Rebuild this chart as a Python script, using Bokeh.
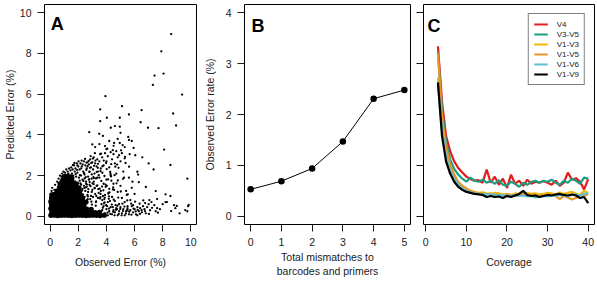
from bokeh.plotting import figure
from bokeh.layouts import row
from bokeh.models import FixedTicker, Label, Legend, LegendItem
from bokeh.embed import file_html
from bokeh.resources import INLINE

FONT = "Liberation Sans"

# ---- Panel A: observed vs predicted error per read (%) ----
# dense cluster near the origin
core_obs = [0.05, 0.3, 0.55, 0.8, 1.05, 1.3, 1.55, 1.8, 2.05, 2.3, 2.55, 2.8, 3.05, 3.3, 3.55, 3.85,
            0.12, 0.37, 0.62, 0.87, 1.1, 1.35, 1.62, 1.85, 2.12, 2.37, 2.62, 2.9, 3.2, 3.5,
            0.05, 0.3, 0.57, 0.8, 1.05, 1.32, 1.55, 1.8, 2.07, 2.3, 2.6, 2.92,
            0.1, 0.35, 0.6, 0.85, 1.12, 1.35, 1.6, 1.87, 2.1, 2.4,
            0.05, 0.3, 0.55, 0.82, 1.05, 1.3, 1.57, 1.8, 2.05, 2.3, 2.55,
            0.1, 0.35, 0.6, 0.85, 1.1, 1.37, 1.6, 1.85, 2.05, 2.3,
            0.12, 0.3, 0.55, 0.8, 1.05, 1.3, 1.55, 1.75, 1.95, 2.15,
            0.5, 0.75, 1.0, 1.25, 1.5, 1.7, 1.9, 2.1,
            0.7, 0.95, 1.2, 1.45, 1.65, 1.85, 2.05,
            0.7, 0.9, 1.15, 1.4, 1.6, 1.8,
            0.9, 1.1, 1.35, 1.55,
            1.0, 1.25, 1.5]
core_pred = [0.05, 0.06, 0.04, 0.05, 0.06, 0.05, 0.04, 0.05, 0.06, 0.05, 0.04, 0.05, 0.06, 0.05, 0.04, 0.06,
             0.2, 0.22, 0.19, 0.21, 0.2, 0.22, 0.2, 0.19, 0.21, 0.2, 0.22, 0.2, 0.18, 0.2,
             0.38, 0.37, 0.39, 0.38, 0.36, 0.38, 0.4, 0.38, 0.37, 0.39, 0.36, 0.35,
             0.55, 0.56, 0.54, 0.55, 0.57, 0.55, 0.54, 0.56, 0.55, 0.52,
             0.72, 0.73, 0.71, 0.72, 0.74, 0.72, 0.71, 0.73, 0.7, 0.72, 0.7,
             0.9, 0.9, 0.91, 0.89, 0.9, 0.92, 0.9, 0.88, 0.9, 0.88,
             1.05, 1.08, 1.07, 1.09, 1.08, 1.1, 1.07, 1.05, 1.08, 1.06,
             1.25, 1.26, 1.24, 1.25, 1.27, 1.23, 1.25, 1.22,
             1.42, 1.43, 1.41, 1.44, 1.42, 1.43, 1.4,
             1.6, 1.6, 1.62, 1.58, 1.6, 1.59,
             1.78, 1.78, 1.8, 1.77,
             1.95, 1.96, 1.94]

obs_err = [
    # fringe above the cluster
    0.05, 0.1, 0.2, 0.15, 0.3, 0.35, 0.4, 0.5, 0.55, 0.6, 0.65, 0.7, 0.75, 0.8, 0.85, 0.9, 0.95, 1.0,
    1.05, 1.1, 1.15, 1.2, 1.25, 1.3, 1.35, 1.4, 1.45, 1.5, 1.55, 1.6, 1.65, 1.7, 1.75, 1.8, 1.85,
    1.9, 1.95, 2.0, 2.05, 2.1, 2.15, 2.2, 2.25, 2.3, 2.35, 2.4, 2.45, 2.5, 2.55, 2.6, 2.65, 2.7,
    2.75, 2.8, 2.85, 2.9, 2.95, 3.0, 3.05, 3.1, 3.15, 3.2, 3.3, 3.35, 3.4, 3.5, 3.55, 3.6, 3.7,
    3.8, 3.9, 4.0, 4.1, 4.2, 4.3, 4.4, 4.5, 4.6, 4.7, 4.8, 4.9, 5.0, 5.1, 5.3,
    # middle band
    1.6, 1.8, 2.0, 2.2, 2.1, 2.4, 2.3, 2.5, 2.6, 2.7, 2.8, 2.9, 3.0, 3.1, 3.2, 3.3, 3.4, 3.5, 3.6,
    3.7, 3.8, 3.9, 4.0, 4.1, 4.2, 4.3, 4.4, 4.5, 4.6, 4.7, 4.8, 4.9, 5.0, 5.1, 5.2, 5.3, 5.4, 5.5,
    5.6, 5.7, 5.8, 5.9, 6.0, 2.2, 2.45, 2.65, 2.85, 3.05, 3.25, 3.45, 3.65, 3.85, 4.05, 4.25, 4.45,
    4.65, 4.15, 3.95, 3.75, 4.35, 4.55, 4.75, 5.25, 5.45, 2.55, 2.75, 3.15, 3.35,
    1.62, 1.68, 1.73, 1.77, 1.82, 1.88, 1.92, 1.97, 2.02, 2.07, 2.12, 2.16, 2.21, 2.27, 2.31, 2.36,
    2.41, 2.44, 2.48, 2.53, 2.57, 2.62, 2.66, 2.71, 2.74, 2.78, 2.83, 2.87, 2.92, 2.96, 3.01, 3.04,
    3.08, 3.12, 3.17, 3.22, 3.26, 3.31, 3.36, 3.4, 3.45, 3.52, 3.58, 3.64, 3.72, 3.78, 3.86, 3.94,
    4.02, 4.12, 4.22, 4.34, 4.48, 4.58, 4.72, 4.86, 5.02, 5.18, 5.36, 5.52, 1.66, 1.94, 2.24, 2.58,
    2.88, 3.18, 2.04, 2.34, 2.68, 2.96, 3.28, 3.58, 3.88, 4.18, 4.52, 4.84, 5.14, 5.48, 5.76, 6.04,
    6.36, 6.62,
    2.38, 2.52, 2.67, 2.81, 2.97, 3.11, 3.27, 3.42, 3.57, 3.71, 3.87, 4.03, 4.17, 4.33, 2.45, 2.62,
    2.79, 2.93, 3.09, 3.24, 3.39, 3.55, 3.69, 3.83, 3.98, 4.14, 4.29, 4.46, 4.63, 4.81, 3.62, 3.81,
    4.06, 4.27, 4.51, 4.76, 5.04, 5.32, 5.61, 5.93,
    # low band to the right
    3.6, 3.7, 3.8, 3.9, 4.0, 4.1, 4.2, 4.3, 4.4, 4.5, 4.6, 4.7, 4.8, 4.9, 5.0, 5.1, 5.2, 5.3, 5.4,
    5.5, 5.6, 5.7, 5.8, 5.9, 6.0, 6.1, 6.2, 6.3, 6.4, 6.5, 6.6, 6.7, 6.9, 7.0, 7.2, 7.4, 7.6, 7.8,
    8.0, 8.2, 6.8, 6.2, 7.1, 7.5, 8.6, 8.8, 9.0, 9.6, 9.75, 9.8, 9.85, 8.3, 8.55, 8.2, 7.5, 6.8,
    6.3, 5.85, 6.2, 6.25, 7.0, 7.35, 8.55, 9.75, 8.1, 6.05, 5.6, 5.55, 5.0, 4.95, 5.3, 4.55, 4.2,
    3.9, 3.5, 3.2, 3.0, 4.8, 5.8, 4.45, 5.15, 5.65, 6.55, 4.0, 3.75,
    3.62, 3.74, 3.86, 3.98, 4.08, 4.18, 4.28, 4.38, 4.48, 4.58, 4.68, 4.78, 4.88, 4.98, 5.08, 5.18,
    5.28, 5.38, 5.48, 5.62, 5.78, 5.92, 6.08, 6.22, 6.38, 6.52, 6.74, 7.02, 7.24, 7.66,
    # sparse outliers
    8.6, 7.9, 8.06, 7.42, 7.3, 9.38, 3.93, 3.56, 5.11, 6.5, 8.74, 4.95, 5.6, 4.03, 3.56, 6.43, 8.95,
    6.95, 7.7, 4.31, 4.6, 4.95, 2.78, 3.49, 7.05, 6.75, 5.5, 7.6, 8.9, 9.2,
]
pred_err = [
    1.1, 1.25, 1.0, 1.4, 1.3, 1.55, 1.2, 1.7, 1.45, 1.85, 1.6, 2.0, 1.75, 1.95, 2.1, 1.8, 2.2, 1.95,
    2.15, 2.05, 2.3, 1.9, 2.2, 2.1, 2.35, 2.0, 2.25, 2.4, 2.1, 2.3, 2.0, 2.5, 2.2, 2.35, 1.95,
    2.6, 2.15, 2.45, 1.9, 2.3, 2.6, 2.0, 2.45, 1.8, 2.2, 2.7, 2.05, 2.5, 1.7, 2.35, 2.65, 1.95,
    2.55, 2.2, 2.8, 2.4, 1.85, 2.65, 2.3, 2.9, 2.1, 2.6, 2.45, 2.8, 2.2, 2.7, 3.05, 2.35, 2.9,
    2.5, 3.1, 2.7, 2.95, 2.4, 3.15, 2.8, 3.05, 2.6, 3.2, 2.9, 3.0, 2.7, 3.1, 2.85,
    1.6, 1.7, 1.6, 1.55, 1.75, 1.5, 1.35, 1.25, 1.45, 1.2, 1.55, 1.0, 1.3, 1.7, 1.1, 1.5, 0.9, 1.9,
    1.25, 0.8, 1.6, 1.05, 1.8, 0.7, 1.35, 2.0, 0.95, 1.6, 0.75, 2.1, 1.2, 0.6, 1.5, 0.9, 2.2, 0.7,
    1.25, 0.5, 1.9, 0.8, 1.4, 0.55, 1.1, 1.2, 0.95, 1.05, 0.85, 0.95, 0.7, 1.15, 0.6, 0.85, 0.5,
    0.75, 0.45, 0.55, 1.15, 1.45, 1.0, 1.75, 1.3, 0.35, 1.9, 1.05, 1.6, 1.8, 1.4, 1.9,
    2.52, 1.28, 2.62, 1.52, 2.08, 1.38, 2.28, 1.66, 2.7, 1.44, 2.02, 1.62, 2.36, 1.28, 2.55, 1.74,
    2.12, 1.4, 2.82, 1.92, 2.28, 1.56, 2.46, 1.34, 2.72, 1.82, 2.38, 1.48, 2.62, 2.06, 1.62, 2.84,
    1.92, 2.48, 1.38, 2.74, 1.86, 2.18, 1.52, 2.58, 2.02, 1.36, 2.22, 1.74, 2.46, 1.28, 1.98, 1.56,
    2.32, 1.82, 1.18, 2.56, 1.42, 2.02, 1.62, 2.38, 1.22, 1.84, 2.62, 1.08, 1.9, 2.5, 2.74, 2.64,
    2.96, 3.1, 1.16, 1.06, 0.98, 1.2, 1.0, 1.1, 0.92, 0.98, 0.82, 0.92, 0.62, 0.78, 0.62, 0.72,
    0.62, 0.78,
    0.66, 1.42, 0.84, 1.68, 0.58, 1.88, 0.74, 1.34, 0.94, 2.14, 0.68, 1.5, 0.86, 1.96, 1.86, 0.78,
    2.18, 0.72, 1.58, 0.52, 2.38, 0.88, 1.46, 0.64, 2.62, 1.12, 2.08, 1.32, 2.44, 1.76, 3.08, 2.74,
    3.32, 2.18, 3.46, 2.54, 3.24, 2.92, 2.44, 3.36,
    0.1, 0.3, 0.5, 0.15, 0.35, 0.05, 0.25, 0.45, 0.1, 0.3, 0.2, 0.4, 0.05, 0.25, 0.45, 0.15, 0.35,
    0.05, 0.25, 0.4, 0.1, 0.3, 0.5, 0.2, 0.35, 0.1, 0.45, 0.25, 0.4, 0.3, 0.5, 0.35, 0.45, 0.6,
    0.7, 0.55, 0.4, 0.35, 0.6, 0.7, 0.15, 0.05, 0.3, 0.25, 0.26, 0.55, 0.51, 0.31, 0.25, 0.5,
    0.56, 0.7, 1.0, 1.08, 1.24, 1.44, 1.68, 1.7, 2.19, 2.05, 2.6, 2.3, 2.52, 1.85, 3.28, 3.0,
    3.75, 3.9, 4.1, 3.6, 3.4, 3.6, 3.7, 3.45, 3.55, 3.4, 3.53, 3.8, 3.7, 3.25, 3.5, 3.05, 2.9,
    3.3, 3.95,
    0.22, 0.42, 0.08, 0.55, 0.18, 0.38, 0.12, 0.58, 0.22, 0.05, 0.32, 0.52, 0.12, 0.36, 0.05, 0.26,
    0.48, 0.14, 0.32, 0.22, 0.08, 0.38, 0.24, 0.32, 0.12, 0.2, 0.26, 0.12, 0.42, 0.18,
    8.95, 8.1, 7.01, 6.91, 6.45, 5.98, 5.9, 5.25, 5.41, 5.21, 5.05, 4.84, 5.0, 4.84, 4.67, 4.62,
    4.46, 4.35, 4.33, 4.35, 4.43, 4.4, 4.13, 4.05, 0.8, 0.65, 0.3, 0.85, 0.4, 0.15,
]

# ---- Panel B: error rate by number of mismatches ----
mismatches = [0, 1, 2, 3, 4, 5]
mismatch_err = [0.53, 0.69, 0.94, 1.47, 2.31, 2.48]

# ---- Panel C: error rate by coverage for each amplified region ----
coverage = [3, 4, 5, 6, 7, 8, 9, 10, 11, 12, 13, 14, 15, 16, 17, 18, 19, 20, 21, 22,
            23, 24, 25, 26, 27, 28, 29, 30, 31, 32, 33, 34, 35, 36, 37, 38, 39, 40]
err_v4 = [3.34, 2.25, 1.58, 1.28, 1.08, 0.95, 0.86, 0.78, 0.73, 0.70, 0.71, 0.66, 0.92, 0.66,
          0.78, 0.62, 0.74, 0.56, 0.82, 0.64, 0.70, 0.60, 0.72, 0.64, 0.68, 0.66, 0.69, 0.66,
          0.62, 0.70, 0.60, 0.66, 0.86, 0.72, 0.75, 0.68, 0.53, 0.73]
err_v3v5 = [3.22, 2.10, 1.45, 1.12, 0.93, 0.82, 0.74, 0.68, 0.76, 0.70, 0.68, 0.72, 0.66, 0.70,
            0.64, 0.71, 0.62, 0.60, 0.68, 0.64, 0.58, 0.66, 0.62, 0.68, 0.70, 0.66, 0.70, 0.68,
            0.72, 0.66, 0.62, 0.70, 0.66, 0.74, 0.70, 0.64, 0.76, 0.74]
err_v1v3 = [2.72, 1.82, 1.28, 0.98, 0.80, 0.66, 0.58, 0.53, 0.50, 0.48, 0.46, 0.47, 0.45, 0.44,
            0.46, 0.45, 0.43, 0.44, 0.42, 0.45, 0.44, 0.43, 0.46, 0.44, 0.45, 0.43, 0.44, 0.46,
            0.45, 0.43, 0.47, 0.44, 0.46, 0.48, 0.45, 0.42, 0.50, 0.46]
err_v1v5 = [3.20, 1.95, 1.35, 1.02, 0.82, 0.68, 0.60, 0.55, 0.50, 0.47, 0.45, 0.44, 0.43, 0.45,
            0.42, 0.43, 0.41, 0.43, 0.42, 0.40, 0.42, 0.44, 0.41, 0.43, 0.42, 0.40, 0.42, 0.41,
            0.43, 0.40, 0.34, 0.40, 0.37, 0.33, 0.36, 0.42, 0.40, 0.44]
err_v1v6 = [2.58, 1.68, 1.18, 0.90, 0.74, 0.62, 0.55, 0.50, 0.47, 0.45, 0.44, 0.43, 0.44, 0.42,
            0.43, 0.41, 0.42, 0.40, 0.41, 0.42, 0.40, 0.41, 0.39, 0.40, 0.37, 0.38, 0.40, 0.39,
            0.41, 0.40, 0.42, 0.41, 0.40, 0.42, 0.43, 0.41, 0.44, 0.45]
err_v1v9 = [2.63, 1.58, 1.08, 0.84, 0.68, 0.58, 0.52, 0.48, 0.46, 0.44, 0.43, 0.42, 0.38, 0.40,
            0.38, 0.39, 0.36, 0.40, 0.38, 0.41, 0.44, 0.50, 0.42, 0.40, 0.41, 0.38, 0.40, 0.42,
            0.41, 0.43, 0.44, 0.42, 0.41, 0.43, 0.41, 0.36, 0.38, 0.26]
regions = ["V4", "V3-V5", "V1-V3", "V1-V5", "V1-V6", "V1-V9"]
region_colors = ["#E41A1C", "#1B9E80", "#F2B705", "#E8952C", "#5CC0D6", "#000000"]


def style(p, xticks, yticks, show_ylabels=True):
    p.outline_line_color = "black"
    p.outline_line_width = 1
    p.grid.visible = False
    p.background_fill_color = "white"
    p.border_fill_color = "white"
    for ax in (p.xaxis[0], p.yaxis[0]):
        ax.axis_line_color = None
        ax.major_tick_line_color = "#1a1a1a"
        ax.major_tick_out = 7
        ax.major_tick_in = 0
        ax.minor_tick_line_color = None
        ax.major_label_text_font = FONT
        ax.major_label_text_font_size = "10.5px"
        ax.major_label_text_color = "#1a1a1a"
        ax.major_label_standoff = 6
        ax.axis_label_text_font = FONT
        ax.axis_label_text_font_size = "10.5px"
        ax.axis_label_text_font_style = "normal"
        ax.axis_label_text_color = "#1a1a1a"
    p.xaxis[0].ticker = FixedTicker(ticks=xticks)
    p.yaxis[0].ticker = FixedTicker(ticks=yticks)
    p.yaxis[0].major_label_orientation = "horizontal"
    if not show_ylabels:
        p.yaxis[0].major_label_overrides = {t: "" for t in yticks}
        p.yaxis[0].major_label_standoff = 0


def panel_letter(p, letter, x, y):
    p.add_layout(Label(x=x, y=y, text=letter, text_font=FONT, text_font_size="18px",
                       text_font_style="bold", text_color="black",
                       text_baseline="alphabetic", text_align="left"))


# Panel A
pA = figure(width=200, height=283, x_range=(-0.4, 10.4), y_range=(-0.4, 10.4),
            output_backend="svg", toolbar_location=None,
            min_border_left=42, min_border_right=4, min_border_top=4, min_border_bottom=59)
style(pA, [0, 2, 4, 6, 8, 10], [0, 2, 4, 6, 8, 10])
pA.xaxis.axis_label = "Observed Error (%)"
pA.yaxis.axis_label = "Predicted Error (%)"
pA.xaxis.axis_label_standoff = 7
pA.yaxis.axis_label_standoff = 1
pA.scatter(core_obs, core_pred, size=5.2, color="black", line_color=None)
pA.scatter(obs_err, pred_err, size=2.3, color="black", line_color=None)
panel_letter(pA, "A", 0.05, 9.42)

# Panel B
pB = figure(width=214, height=283, x_range=(-0.2, 5.2), y_range=(-0.16, 4.16),
            output_backend="svg", toolbar_location=None,
            min_border_left=39, min_border_right=4, min_border_top=4, min_border_bottom=59)
style(pB, [0, 1, 2, 3, 4, 5], [0, 1, 2, 3, 4])
pB.xaxis.axis_label = "Total mismatches to\nbarcodes and primers"
pB.yaxis.axis_label = "Observed Error rate (%)"
pB.xaxis.axis_label_standoff = 2
pB.yaxis.axis_label_standoff = 7
pB.line(mismatches, mismatch_err, line_color="black", line_width=1)
pB.scatter(mismatches, mismatch_err, size=6.5, color="black", line_color=None)
panel_letter(pB, "B", 0.03, 3.745)

# Panel C
pC = figure(width=183, height=283, x_range=(-0.56, 41.56), y_range=(-0.16, 4.16),
            output_backend="svg", toolbar_location=None,
            min_border_left=9, min_border_right=3, min_border_top=4, min_border_bottom=59)
style(pC, [0, 10, 20, 30, 40], [0, 1, 2, 3, 4], show_ylabels=False)
pC.xaxis.axis_label = "Coverage"
pC.xaxis.axis_label_standoff = 7
series = [err_v4, err_v3v5, err_v1v3, err_v1v5, err_v1v6, err_v1v9]
items = []
for name, col, ys in zip(regions, region_colors, series):
    r = pC.line(coverage, ys, line_color=col, line_width=2.2)
    items.append(LegendItem(label=name, renderers=[r]))
legend = Legend(items=items, location="top_right", margin=9, padding=5, spacing=0,
                glyph_width=14, glyph_height=10, label_height=10, label_standoff=9,
                label_text_font=FONT, label_text_font_size="8px", label_text_color="#1a1a1a",
                border_line_color="black", border_line_width=1, background_fill_alpha=1)
pC.add_layout(legend)
panel_letter(pC, "C", 0.42, 3.73)

layout = row(pA, pB, pC)
open("out.html", "w").write(file_html(layout, INLINE))
